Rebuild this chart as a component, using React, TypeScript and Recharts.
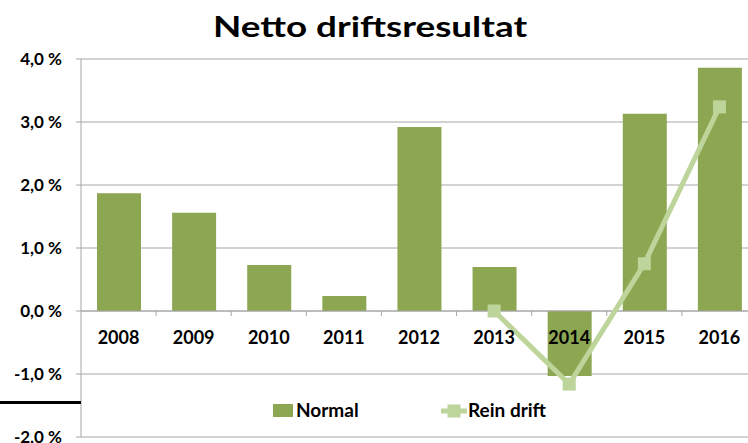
import React from 'react'
import { ComposedChart, Bar, Line, XAxis, YAxis, CartesianGrid, ReferenceLine } from 'recharts'

const years = ['2008', '2009', '2010', '2011', '2012', '2013', '2014', '2015', '2016']
const normal = [1.87, 1.56, 0.73, 0.24, 2.92, 0.7, -1.03, 3.13, 3.86]
const reinDrift = [null, null, null, null, null, 0.0, -1.16, 0.75, 3.24]
const yTicks = [-2, -1, 0, 1, 2, 3, 4]

const data = years.map((year, i) => ({ year, normal: normal[i], rein: reinDrift[i] }))

const W = 757
const H = 443
const TOP = 59
const XAXIS_H = 6
const YAXIS_W = 81
const zeroY = TOP + (H - TOP - XAXIS_H) * (4 / 6)
const band = (W - YAXIS_W) / years.length

const FONT = 'Lato, "Open Sans", sans-serif'
const BAR = '#8ca651'
const LINE = '#bdd49a'
const GRID = '#a6a6a6'

const fmt = (v: number) => `${v.toFixed(1).replace('.', ',')} %`

function YearTick({ x, payload }: { x?: number; payload?: { value: string } }) {
  return (
    <g>
      <text x={x} y={zeroY + 33} textAnchor="middle" fontFamily={FONT} fontWeight={700} fontSize={18} fill="#000">
        {payload?.value}
      </text>
      <line x1={(x ?? 0) + band / 2} x2={(x ?? 0) + band / 2} y1={zeroY} y2={zeroY + 5} stroke={GRID} />
    </g>
  )
}

function SquareDot({ cx, cy }: { cx?: number; cy?: number }) {
  if (cx == null || cy == null) return null
  return <rect x={cx - 6.5} y={cy - 6.5} width={13} height={13} fill={LINE} />
}

const legendText: React.CSSProperties = {
  position: 'absolute',
  top: 399,
  fontFamily: FONT,
  fontWeight: 700,
  fontSize: 19,
  lineHeight: '22px',
  color: '#000',
}

export default function App() {
  return (
    <div style={{ position: 'absolute', left: 0, top: 0, width: 748, height: 443, overflow: 'hidden', background: '#fff' }}>
      <div
        style={{
          position: 'absolute',
          left: 0,
          width: 740,
          top: 6,
          textAlign: 'center',
          fontFamily: FONT,
          fontWeight: 700,
          fontSize: 29,
          lineHeight: '40px',
          color: '#000',
          transform: 'scaleX(1.27)',
          transformOrigin: '370px 0',
        }}
      >
        Netto driftsresultat
      </div>
      <ComposedChart width={W} height={H} data={data} margin={{ top: TOP, right: 0, bottom: 0, left: 0 }}>
        <CartesianGrid vertical={false} stroke={GRID} />
        <XAxis dataKey="year" height={XAXIS_H} axisLine={false} tickLine={false} tick={<YearTick />} interval={0} />
        <YAxis
          width={YAXIS_W}
          domain={[-2, 4]}
          ticks={yTicks}
          interval={0}
          tickFormatter={fmt}
          stroke={GRID}
          tickSize={5}
          tickMargin={14}
          tick={{ fontFamily: FONT, fontWeight: 700, fontSize: 17, fill: '#000' }}
        />
        <ReferenceLine y={0} stroke={GRID} />
        <Bar dataKey="normal" fill={BAR} barSize={44} isAnimationActive={false} />
        <Line dataKey="rein" stroke={LINE} strokeWidth={5} dot={<SquareDot />} isAnimationActive={false} />
      </ComposedChart>
      <div style={{ position: 'absolute', left: 0, top: 401, width: 81, height: 3, background: '#000' }} />
      <div style={{ position: 'absolute', left: 273, top: 404, width: 20, height: 13, background: BAR }} />
      <div style={{ ...legendText, left: 296 }}>Normal</div>
      <svg width={26} height={16} style={{ position: 'absolute', left: 441, top: 403 }}>
        <line x1={0} x2={26} y1={8} y2={8} stroke={LINE} strokeWidth={5} />
        <rect x={6.5} y={1.5} width={13} height={13} fill={LINE} />
      </svg>
      <div style={{ ...legendText, left: 468 }}>Rein drift</div>
    </div>
  )
}
